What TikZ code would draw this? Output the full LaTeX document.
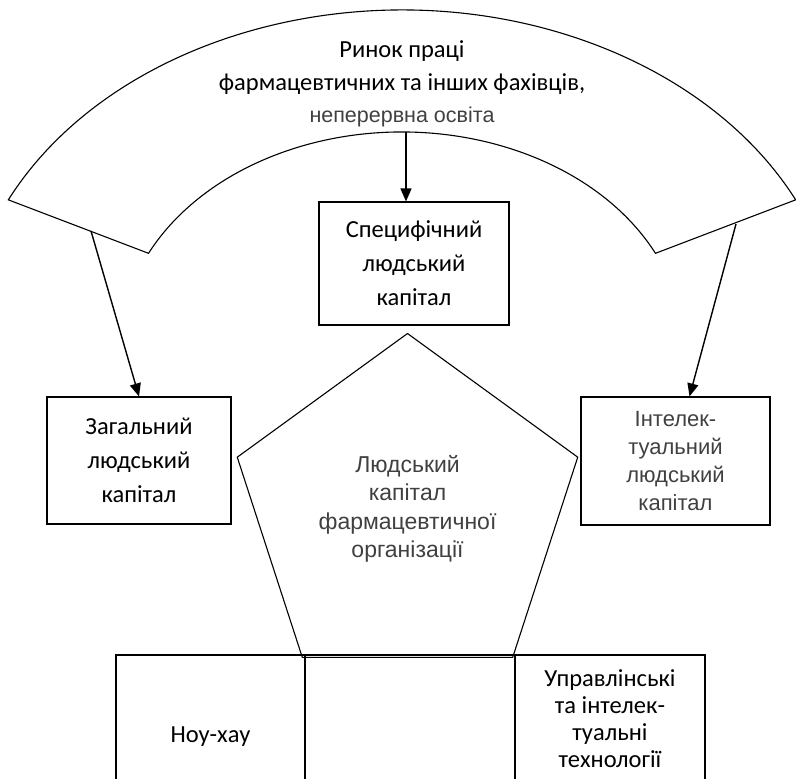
\documentclass[tikz,border=0pt]{standalone}
\usepackage{fontspec}
\setmainfont{Carlito}
\newfontfamily\arialfont{Liberation Sans}
\usepackage{tikz}
\usetikzlibrary{arrows.meta,positioning,shapes.geometric,calc}
\definecolor{textgrey}{RGB}{64,64,64}

\begin{document}
\begin{tikzpicture}[x=1pt, y=-1pt,
  box/.style={draw, line width=1.1pt, align=center, inner sep=0pt,
              font=\fontsize{24.5}{34}\selectfont},
  abox/.style={box, text=textgrey, font=\arialfont\fontsize{22}{28}\selectfont},
  link/.style={-{Triangle[length=13pt,width=11pt]}, line width=1.4pt}]
  \useasboundingbox (0,0) rectangle (796,779);

  % block arc: labour market
  \coordinate (arcc) at (402,348);
  \draw[line width=1.1pt] ($(arcc)+(154:438pt and 338pt)$)
    arc[start angle=154, end angle=26, x radius=438pt, y radius=338pt]
    -- ($(arcc)+(26:282pt and 216pt)$)
    arc[start angle=26, end angle=154, x radius=282pt, y radius=216pt] -- cycle;
  \node[font=\fontsize{24.5}{34}\selectfont, anchor=base] (mk1) at (402,57) {Ринок праці};
  \node[font=\fontsize{24.5}{34}\selectfont, anchor=base] (mk2) at (402,90)
       {фармацевтичних та інших фахівців,};
  \node[font=\arialfont\fontsize{21.5}{26}\selectfont, text=textgrey, anchor=base] (mk3)
       at (402,122) {неперервна освіта};

  % boxes
  \node[box, minimum width=190pt, minimum height=123pt] (spec) at (414,263.5)
       {Специфічний\\людський\\капітал};
  \node[box, minimum width=184pt, minimum height=127pt] (gen) at (139,460.5)
       {Загальний\\людський\\капітал};
  \node[abox, minimum width=189pt, minimum height=128pt] (intel) at (675.5,461)
       {Інтелек-\\туальний\\людський\\капітал};

  % pentagon
  \node[regular polygon, regular polygon sides=5, draw, line width=1.1pt,
        minimum size=358pt, inner sep=0pt] (penta) at (407.5,512.5) {};
  \node[font=\arialfont\fontsize{23}{28.5}\selectfont, text=textgrey, align=center]
       (pentxt) at (407.5,509) {Людський\\капітал\\фармацевтичної\\організації};

  % bottom row
  \node[box, minimum width=189pt, minimum height=164pt] (knowhow) at (210.5,737) {Ноу-хау};
  \node[box, minimum width=210pt, minimum height=145pt] (mid) at (410,727.5) {};
  \node[box, font=\fontsize{24.5}{27}\selectfont, minimum width=190pt,
        minimum height=128pt] (tech) at (610,719)
       {Управлінські\\та інтелек-\\туальні\\технології};

  % arrows
  \coordinate (ls) at (91,231);
  \coordinate (rs) at (736,224);
  \coordinate (cs) at (406,132);
  \draw[link] (ls) -- (gen.north);
  \draw[link] (rs) -- ($(intel.north)+(14,0)$);
  \draw[link] (cs) -- ($(spec.north)+(-8,0)$);
\end{tikzpicture}
\end{document}
